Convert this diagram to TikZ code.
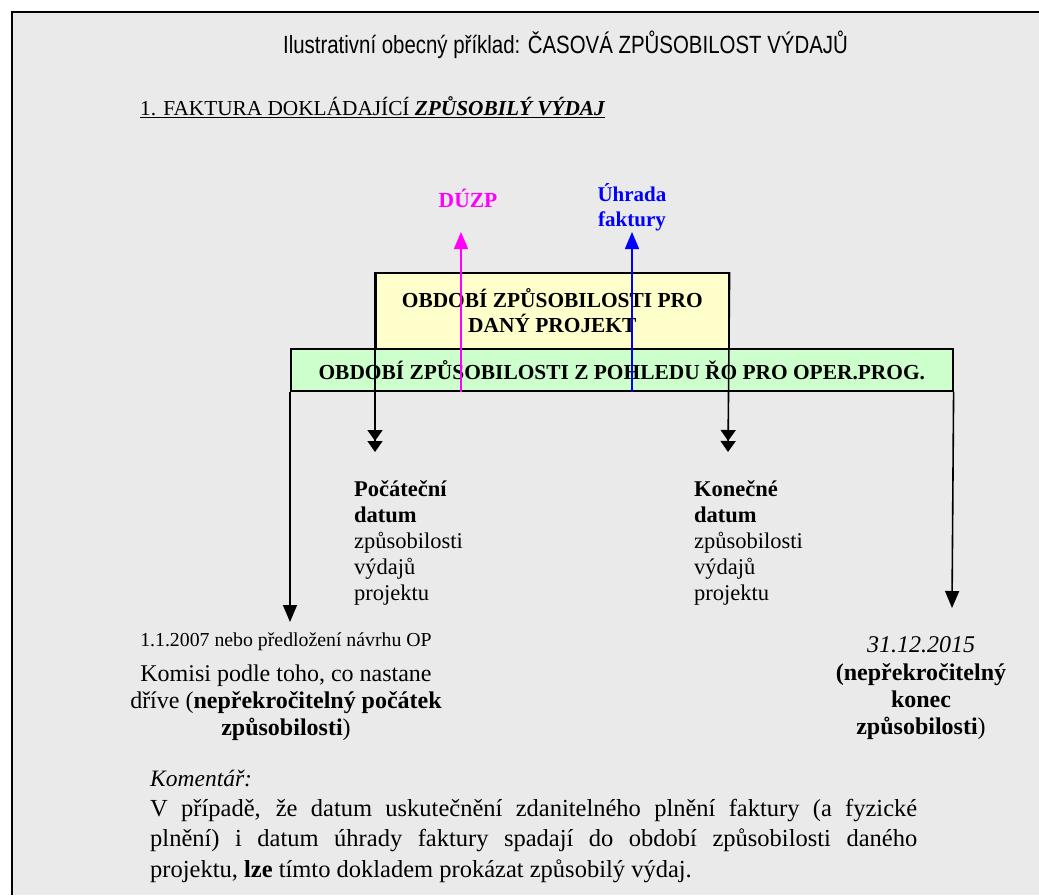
\documentclass[tikz,border=0pt]{standalone}
\usepackage{fontspec}
\setmainfont{Liberation Serif}
\newfontfamily\narrowsans{Liberation Sans}[FakeStretch=0.82]
\usetikzlibrary{arrows.meta}
\definecolor{bggray}{HTML}{EAEAEA}
\definecolor{boxyellow}{HTML}{FFFFCC}
\definecolor{boxgreen}{HTML}{CCFFCC}
\definecolor{duzpcol}{HTML}{FF00FF}
\definecolor{uhradacol}{HTML}{0000FF}
\begin{document}
\begin{tikzpicture}[x=1pt,y=-1pt,
  period/.style={draw=black, line width=1.6pt, inner sep=0pt, anchor=north west,
    font=\bfseries\fontsize{21.4}{25}\selectfont, align=center},
  txt/.style={inner sep=0pt, font=\fontsize{22.5}{26}\selectfont},
  single/.style={line width=1.6pt, -{Triangle[width=14pt,length=17pt]}},
  double/.style={line width=1.6pt, -{Triangle[width=15pt,length=11pt]Triangle[width=15pt,length=11pt]}}
]
\useasboundingbox (0,0) rectangle (1039,895);
\fill[white] (0,0) rectangle (1039,895);
\fill[bggray] (12,12) rectangle (1039,895);
\draw[line width=2pt, black] (12,895) -- (12,12) -- (1039,12);

% title and heading
\node[inner sep=0pt, font=\narrowsans\fontsize{24.9}{28}\selectfont] (title) at (565.5,45)
  {Ilustrativní obecný příklad: ČASOVÁ ZPŮSOBILOST VÝDAJŮ};
\node[inner sep=0pt, anchor=base west, font=\fontsize{21.3}{25}\selectfont] (head) at (140,115)
  {\underline{1. FAKTURA DOKLÁDAJÍCÍ \textbf{\textit{ZPŮSOBILÝ VÝDAJ}}}};

% boxes
\node[period, fill=boxyellow, minimum width=353pt, minimum height=76pt] (proj) at (375,272)
  {OBDOBÍ ZPŮSOBILOSTI PRO\\DANÝ PROJEKT};
\node[period, fill=boxgreen, minimum width=662pt, minimum height=42pt] (oper) at (290,348)
  {OBDOBÍ ZPŮSOBILOSTI Z POHLEDU ŘO PRO OPER.PROG.};

% labels above
\node[txt, font=\bfseries\fontsize{21.5}{25}\selectfont, text=duzpcol] (duzp) at (468,198) {DÚZP};
\node[txt, font=\bfseries\fontsize{21}{25}\selectfont, text=uhradacol, align=center] (uhrada) at (632,207) {Úhrada\\faktury};

\coordinate (duzpTip) at (461,232);
\coordinate (uhradaTip) at (632,232);
\coordinate (startTip) at (375,452);
\coordinate (endTip) at (728,452);
\coordinate (leftTip) at (290,622);
\coordinate (rightTip) at (952,608);

\draw[single, duzpcol] (duzpTip |- oper.south) -- (duzpTip);
\draw[single, uhradacol] (uhradaTip |- oper.south) -- (uhradaTip);
\draw[double] (proj.north west) -- (startTip);
\draw[double] (proj.north east) -- (endTip);
\draw[single] (oper.south west) -- (leftTip);
\draw[single] (oper.south east) -- (rightTip);

% date labels
\node[txt, anchor=north west, align=left] (start) at (354,480)
  {\textbf{Počáteční}\\\textbf{datum}\\způsobilosti\\výdajů\\projektu};
\node[txt, anchor=north west, align=left] (end) at (694,480)
  {\textbf{Konečné}\\\textbf{datum}\\způsobilosti\\výdajů\\projektu};

\node[txt, anchor=north, align=center, font=\fontsize{24}{27}\selectfont] (first) at (286,633)
  {{\fontsize{19.8}{22}\selectfont 1.1.2007 nebo předložení návrhu OP}\\[8pt]
   Komisi podle toho, co nastane\\
   dříve (\textbf{nepřekročitelný počátek}\\
   \textbf{způsobilosti})};
\node[txt, anchor=north, align=center, font=\fontsize{24}{27}\selectfont] (last) at (921,636)
  {\textit{31.12.2015}\\[1pt]
   \textbf{(nepřekročitelný}\\
   \textbf{konec}\\
   \textbf{způsobilosti})};

% comment
\node[txt, anchor=base west, font=\itshape\fontsize{23.5}{26}\selectfont] (kom) at (150,786) {Komentář:};
\node[inner sep=0pt, anchor=north west, text width=767pt, align=justify,
  font=\fontsize{24.5}{30.5}\selectfont] (para) at (150,799)
  {V případě, že datum uskutečnění zdanitelného plnění faktury (a fyzické\linebreak
   plnění) i datum úhrady faktury spadají do období způsobilosti daného\linebreak
   projektu, \textbf{lze} tímto dokladem prokázat způsobilý výdaj.};
\end{tikzpicture}
\end{document}
